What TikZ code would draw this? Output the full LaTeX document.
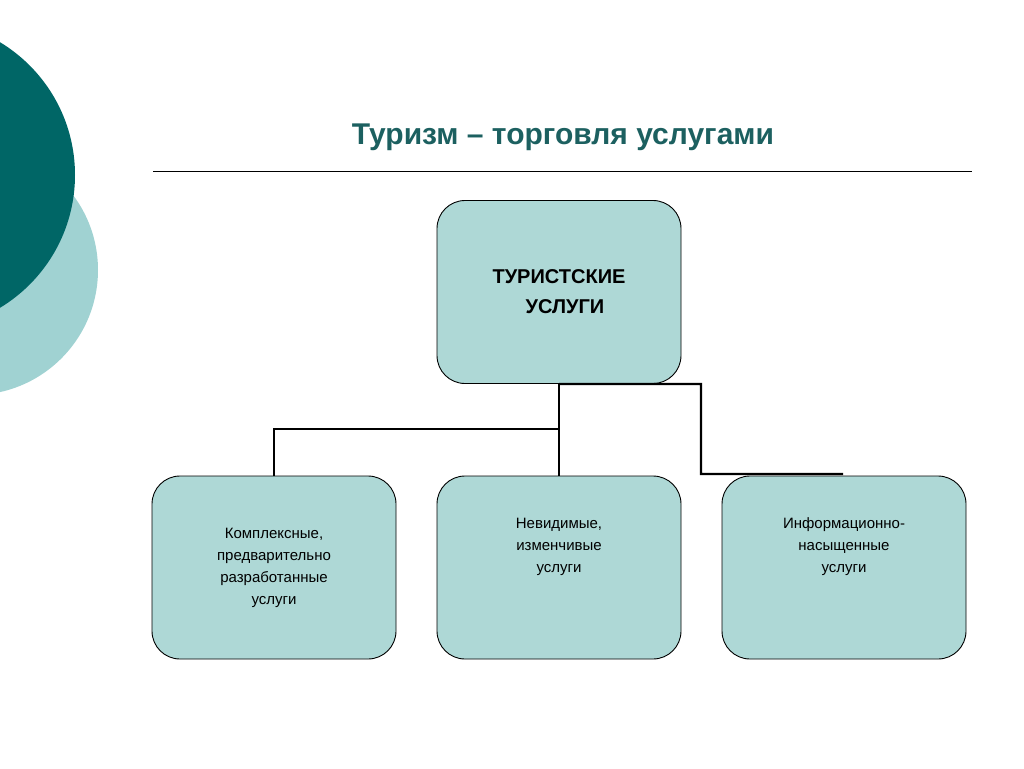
\documentclass[tikz,border=0pt]{standalone}
\usepackage{fontspec}
\setmainfont{Liberation Sans}
\begin{document}
\begin{tikzpicture}[x=1pt,y=-1pt,
 box/.style={draw=black,line width=0.9pt,fill=boxc,rounded corners=28pt,minimum width=244pt,minimum height=183pt,align=center,inner sep=0pt},
 conn/.style={line width=2.4pt}]
\definecolor{boxc}{RGB}{174,216,214}
\definecolor{darkc}{RGB}{0,102,102}
\definecolor{lightc}{RGB}{160,210,210}
\definecolor{titlec}{RGB}{28,96,96}
\useasboundingbox (0,0) rectangle (1024,768);
\begin{scope}
\clip (0,0) rectangle (1024,768);
\fill[lightc] (-27,270) circle (125);
\fill[darkc] (-80,175) circle (155);
\end{scope}
\node[text=titlec,font=\fontsize{30}{36}\selectfont\bfseries] (title) at (563,137) {Туризм – торговля услугами};
\draw[line width=0.8pt] (153,171) coordinate (l1) -- (972,171) coordinate (l2);
\node[box,font=\fontsize{20}{30}\selectfont\bfseries] (top) at (559,292) {ТУРИСТСКИЕ\\\hspace*{12pt}УСЛУГИ};
\node[box,font=\fontsize{15}{22}\selectfont] (b1) at (274,567.5) {Комплексные,\\предварительно\\разработанные\\услуги};
\node[box,font=\fontsize{15}{22}\selectfont] (b2) at (559,567.5) {Невидимые,\\изменчивые\\услуги\\[22pt]};
\node[box,font=\fontsize{15}{22}\selectfont] (b3) at (844,567.5) {Информационно-\\насыщенные\\услуги\\[22pt]};
\draw[conn] (top.south) -- (b2.north);
\draw[conn] (559,429) -| (b1.north);
\draw[conn] (top.south) -- (701,384) -- (701,474) -- (843,474) coordinate (e3);
\end{tikzpicture}
\end{document}
